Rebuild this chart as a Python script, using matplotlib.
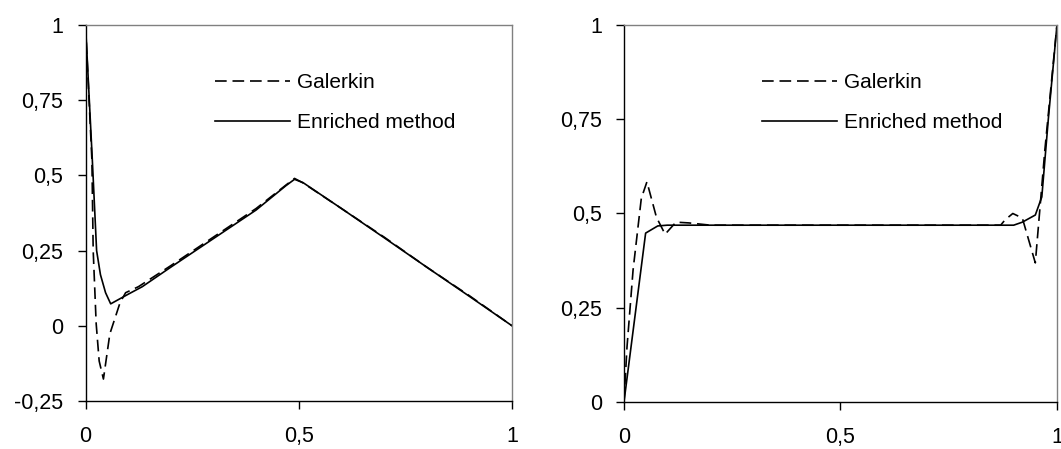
import matplotlib
matplotlib.use("Agg")
import matplotlib.pyplot as plt

plt.rcParams["font.family"] = ["Liberation Sans", "DejaVu Sans"]

# left panel: boundary layer at x=0
left_galerkin_x = [0.0, 0.015, 0.018, 0.025, 0.032, 0.042, 0.057, 0.081, 0.094, 0.124, 0.2, 0.3, 0.4, 0.47, 0.49, 0.51, 0.6, 0.7, 0.8, 0.9, 1.0]
left_galerkin_y = [1.0, 0.55, 0.25, 0.007, -0.117, -0.177, -0.027, 0.077, 0.11, 0.13, 0.2, 0.295, 0.39, 0.468, 0.49, 0.475, 0.39, 0.295, 0.195, 0.1, 0.0]
left_enriched_x = [0.0, 0.016, 0.026, 0.035, 0.047, 0.059, 0.1, 0.133, 0.2, 0.3, 0.4, 0.47, 0.49, 0.51, 0.6, 0.7, 0.8, 0.9, 1.0]
left_enriched_y = [1.0, 0.55, 0.25, 0.17, 0.11, 0.073, 0.105, 0.13, 0.195, 0.29, 0.385, 0.466, 0.487, 0.476, 0.39, 0.293, 0.195, 0.098, 0.0]

# right panel: boundary layers at both ends
right_galerkin_x = [0.0, 0.007, 0.021, 0.04, 0.053, 0.075, 0.095, 0.12, 0.15, 0.2, 0.5, 0.87, 0.88, 0.898, 0.92, 0.95, 0.972, 1.0]
right_galerkin_y = [0.0, 0.146, 0.35, 0.54, 0.584, 0.49, 0.445, 0.477, 0.475, 0.469, 0.469, 0.469, 0.483, 0.5, 0.488, 0.369, 0.668, 1.0]
right_enriched_x = [0.0, 0.05, 0.078, 0.1, 0.5, 0.9, 0.92, 0.95, 0.965, 0.98, 1.0]
right_enriched_y = [0.0, 0.448, 0.467, 0.469, 0.469, 0.469, 0.477, 0.496, 0.544, 0.75, 1.0]

x_ticks = [0.0, 0.5, 1.0]
x_labels = ["0", "0,5", "1"]
left_y_ticks = [-0.25, 0.0, 0.25, 0.5, 0.75, 1.0]
left_y_labels = ["-0,25", "0", "0,25", "0,5", "0,75", "1"]
right_y_ticks = [0.0, 0.25, 0.5, 0.75, 1.0]
right_y_labels = ["0", "0,25", "0,5", "0,75", "1"]


def style_axes(ax, ylim, yticks, ylabels):
    ax.set_xlim(0, 1)
    ax.set_ylim(*ylim)
    ax.set_xticks(x_ticks)
    ax.set_xticklabels(x_labels)
    ax.set_yticks(yticks)
    ax.set_yticklabels(ylabels)
    ax.tick_params(axis="both", direction="out", length=6, width=1, labelsize=15.5, color="black")
    ax.tick_params(axis="x", pad=12)
    ax.tick_params(axis="y", pad=10)
    for side in ("left", "bottom"):
        ax.spines[side].set_color("black")
        ax.spines[side].set_linewidth(1.0)
    for side in ("top", "right"):
        ax.spines[side].set_color("#808080")
        ax.spines[side].set_linewidth(1.0)


def draw_panel(ax, gx, gy, ex, ey, legend_x):
    ax.plot(gx, gy, color="black", linewidth=1.2, linestyle=(0, (7, 3.5)), label="Galerkin")
    ax.plot(ex, ey, color="black", linewidth=1.2, label="Enriched method")
    ax.legend(loc="upper left", bbox_to_anchor=(legend_x, 0.872), frameon=False, fontsize=15,
              handlelength=3.6, handletextpad=0.33, labelspacing=1.0, borderpad=0, borderaxespad=0)


fig = plt.figure(figsize=(10.61, 4.49), dpi=100)
ax1 = fig.add_axes([0.0806, 0.1069, 0.4020, 0.8374])
ax2 = fig.add_axes([0.5881, 0.1047, 0.4081, 0.8396])

draw_panel(ax1, left_galerkin_x, left_galerkin_y, left_enriched_x, left_enriched_y, 0.304)
style_axes(ax1, (-0.25, 1.0), left_y_ticks, left_y_labels)

draw_panel(ax2, right_galerkin_x, right_galerkin_y, right_enriched_x, right_enriched_y, 0.319)
style_axes(ax2, (0.0, 1.0), right_y_ticks, right_y_labels)

fig.savefig("out.png", dpi=100)
plt.close(fig)
